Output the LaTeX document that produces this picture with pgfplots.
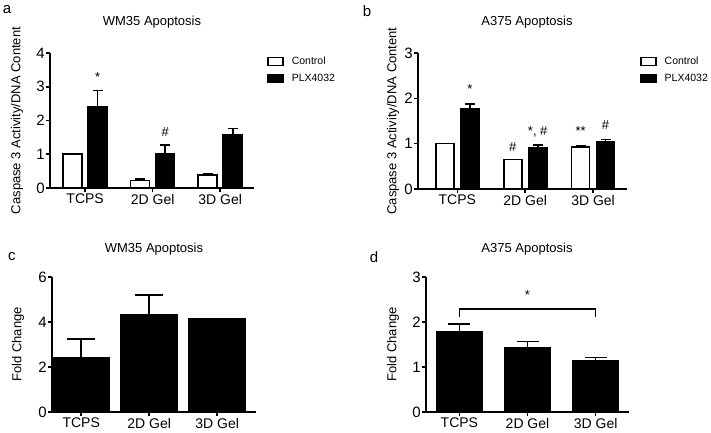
\documentclass[border=0pt]{standalone}
\usepackage{fontspec}
\setmainfont{Liberation Sans}
\usepackage{pgfplots}
\pgfplotsset{compat=1.18}

\pgfplotsset{
 panel/.style={
  scale only axis, axis lines=left, axis line style={line width=1.6pt, -},
  tick align=outside, major tick length=4pt, tick style={line width=1.6pt, black},
  xtick={0,1,2}, xticklabels={TCPS,2D Gel,3D Gel},
  ymin=0, clip=false,
  xticklabel style={font=\fontsize{14}{16}\selectfont, inner ysep=2pt},
  yticklabel style={font=\fontsize{15}{17}\selectfont, inner xsep=1pt},
  /pgf/number format/assume math mode=true,
  every axis y label/.style={rotate=90, anchor=center, font=\fontsize{13}{15}\selectfont},
  legend style={draw=none, fill=none, font=\fontsize{10.5}{12}\selectfont,
     row sep=3.5pt, inner sep=0pt, anchor=north west},
  legend cell align=left,
 },
 ctrl/.style={ybar, bar shift=0pt, fill=white, draw=black, line width=1.6pt,
   error bars/y dir=plus, error bars/y explicit,
   error bars/error bar style={line width=1.6pt},
   error bars/error mark options={rotate=90, line width=1.6pt, mark size=5pt},
   legend image code/.code={\draw[fill=white, draw=black, line width=1.4pt] (0pt,-4pt) rectangle (15pt,4pt); \path (21pt,0pt);}},
 plx/.style={ybar, bar shift=0pt, fill=black, draw=black, line width=1.6pt,
   error bars/y dir=plus, error bars/y explicit,
   error bars/error bar style={line width=1.6pt},
   error bars/error mark options={rotate=90, line width=1.6pt, mark size=5pt},
   legend image code/.code={\draw[fill=black, draw=black, line width=1.4pt] (0pt,-4pt) rectangle (15pt,4pt); \path (21pt,0pt);}},
}
\tikzset{ann/.style={font=\fontsize{13}{15}\selectfont}}

\begin{document}
\begin{tikzpicture}
\path[use as bounding box] (0pt,0pt) rectangle (711pt,432pt);

% panel letters and titles
\node[font=\fontsize{15}{17}\selectfont] at (7pt,422pt) {a};
\node[font=\fontsize{15}{17}\selectfont] at (367pt,421pt) {b};
\node[font=\fontsize{15}{17}\selectfont] at (12pt,175pt) {c};
\node[font=\fontsize{15}{17}\selectfont] at (374pt,175pt) {d};
\node[font=\fontsize{13}{15}\selectfont] at (152pt,410pt) {WM35 Apoptosis};
\node[font=\fontsize{13}{15}\selectfont] at (527pt,410pt) {A375 Apoptosis};
\node[font=\fontsize{13}{15}\selectfont] at (154pt,183pt) {WM35 Apoptosis};
\node[font=\fontsize{13}{15}\selectfont] at (527pt,183pt) {A375 Apoptosis};

% ---------- panel a ----------
\begin{axis}[panel, at={(50pt,244pt)}, anchor=south west, width=204pt, height=135pt,
  xmin=-0.52, xmax=2.50, ymax=4, ytick={0,1,2,3,4},
  ylabel={Caspase 3 Activity/DNA Content},
  ylabel style={at={(axis description cs:-0.162,0.5)}},
  legend style={at={(1.064,0.985)}}]
\addplot[ctrl, bar width=19pt] coordinates {
  (-0.185,1.00) +- (0,0.00)
  (0.815,0.22) +- (0,0.05)
  (1.815,0.38) +- (0,0.04)};
\addlegendentry{Control}
\addplot[plx, bar width=19pt] coordinates {
  (0.185,2.40) +- (0,0.49)
  (1.185,1.00) +- (0,0.28)
  (2.185,1.57) +- (0,0.19)};
\addlegendentry{PLX4032}
\node[ann] at (axis cs:0.185,3.29) {*};
\node[ann] at (axis cs:1.185,1.66) {\#};
\end{axis}

% ---------- panel b ----------
\begin{axis}[panel, at={(418pt,243pt)}, anchor=south west, width=209pt, height=136pt,
  xmin=-0.58, xmax=2.50, ymax=3, ytick={0,1,2,3},
  ylabel={Caspase 3 Activity/DNA Content},
  ylabel style={at={(axis description cs:-0.12,0.5)}},
  legend style={at={(1.062,0.985)}}]
\addplot[ctrl, bar width=18pt] coordinates {
  (-0.184,1.00) +- (0,0.00)
  (0.816,0.65) +- (0,0.00)
  (1.816,0.92) +- (0,0.03)};
\addlegendentry{Control}
\addplot[plx, bar width=18pt] coordinates {
  (0.184,1.78) +- (0,0.09)
  (1.184,0.91) +- (0,0.06)
  (2.184,1.04) +- (0,0.05)};
\addlegendentry{PLX4032}
\node[ann] at (axis cs:0.184,2.20) {*};
\node[ann] at (axis cs:0.816,0.93) {\#};
\node[ann] at (axis cs:1.184,1.27) {*, \#};
\node[ann] at (axis cs:1.816,1.27) {**};
\node[ann] at (axis cs:2.184,1.42) {\#};
\end{axis}

% ---------- panel c ----------
\begin{axis}[panel, at={(52pt,20pt)}, anchor=south west, width=204pt, height=135pt,
  xmin=-0.43, xmax=2.57, ymax=6, ytick={0,2,4,6},
  ylabel={Fold Change},
  ylabel style={at={(axis description cs:-0.167,0.5)}}]
\addplot[plx, bar width=56pt,
  error bars/error mark options={rotate=90, line width=1.6pt, mark size=14pt}] coordinates {
  (0,2.40) +- (0,0.85)
  (1,4.30) +- (0,0.90)
  (2,4.13) +- (0,0.00)};
\end{axis}

% ---------- panel d ----------
\begin{axis}[panel, at={(426pt,20pt)}, anchor=south west, width=203pt, height=135pt,
  xmin=-0.49, xmax=2.49, ymax=3, ytick={0,1,2,3},
  ylabel={Fold Change},
  ylabel style={at={(axis description cs:-0.163,0.5)}}]
\addplot[plx, bar width=46pt,
  error bars/error mark options={rotate=90, line width=1.6pt, mark size=11pt}] coordinates {
  (0,1.78) +- (0,0.17)
  (1,1.42) +- (0,0.15)
  (2,1.14) +- (0,0.07)};
\draw[line width=1.6pt] (axis cs:0,2.11) -- (axis cs:0,2.29) -- (axis cs:2,2.29) -- (axis cs:2,2.11);
\node[ann] at (axis cs:1,2.60) {*};
\end{axis}
\end{tikzpicture}
\end{document}
